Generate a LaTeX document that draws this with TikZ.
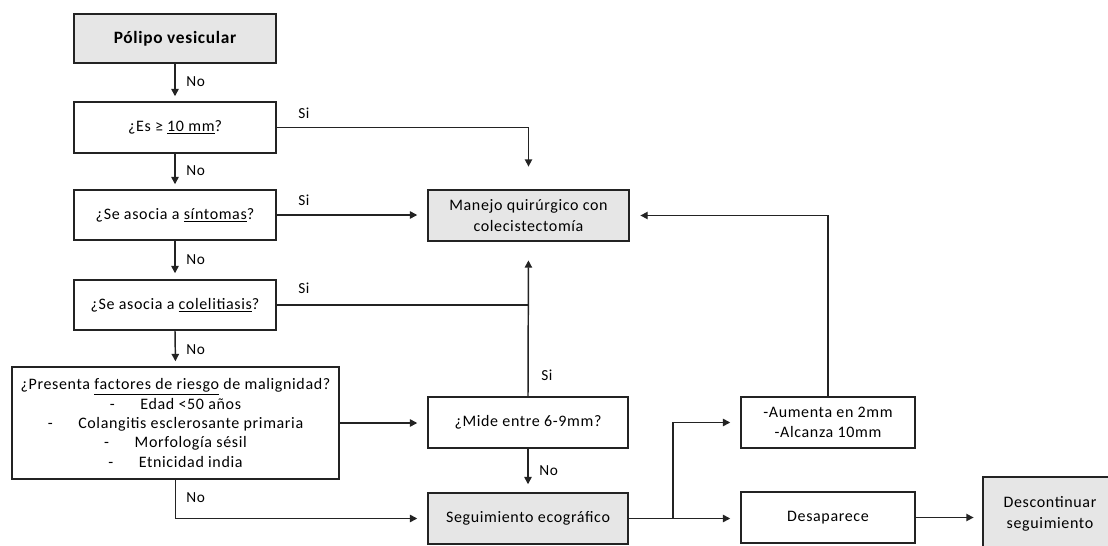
\documentclass[tikz,border=0pt]{standalone}
\usepackage{fontspec}
\setmainfont{Carlito}[LetterSpace=4]
\usetikzlibrary{arrows.meta}
\newdimen\pxu \pxu=0.75pt
\definecolor{boxgray}{RGB}{230,230,230}
\definecolor{linegray}{RGB}{35,35,35}
\begin{document}
\begin{tikzpicture}[x=0.75pt,y=-0.75pt,
  box/.style={draw=linegray,line width=1.1pt,inner sep=0pt,align=center,
    font=\fontsize{12}{15.5}\selectfont},
  gbox/.style={box,fill=boxgray},
  arr/.style={draw=linegray,line width=1.1pt,-{Triangle[length=5.5pt,width=5.5pt]}},
  ln/.style={draw=linegray,line width=1.1pt},
  lbl/.style={anchor=west,inner sep=0pt,font=\fontsize{11.5}{13}\selectfont}]
\useasboundingbox (0,0) rectangle (1108,546);

% nodes
\node[gbox,minimum width=202\pxu,minimum height=49\pxu,font=\bfseries\fontsize{13}{15}\selectfont] (polipo) at (175,38.5) {Pólipo vesicular};
\node[box,minimum width=202\pxu,minimum height=51\pxu] (es) at (175,127.5) {¿Es ≥ \underline{10 mm}?};
\node[box,minimum width=202\pxu,minimum height=50\pxu] (sint) at (175,215) {¿Se asocia a \underline{síntomas}?};
\node[box,minimum width=202\pxu,minimum height=50\pxu] (cole) at (175,305) {¿Se asocia a \underline{colelitiasis}?};
\node[box,minimum width=327\pxu,minimum height=112\pxu,font=\fontsize{12}{14.6}\selectfont] (risk) at (175.5,423) {¿Presenta \underline{factores de riesgo} de malignidad?\\
-\hspace{1.6em}Edad <50 años\\
-\hspace{1.6em}Colangitis esclerosante primaria\\
-\hspace{1.6em}Morfología sésil\\
-\hspace{1.6em}Etnicidad india};
\node[gbox,minimum width=201\pxu,minimum height=51\pxu] (manejo) at (528.5,215.5) {Manejo quirúrgico con\\colecistectomía};
\node[box,minimum width=200\pxu,minimum height=51\pxu] (mide) at (528,422.5) {¿Mide entre 6-9mm?};
\node[gbox,minimum width=200\pxu,minimum height=51\pxu] (segui) at (528,518.5) {Seguimiento ecográfico};
\node[box,minimum width=174\pxu,minimum height=51\pxu] (aumenta) at (828,422.5) {-Aumenta en 2mm\\-Alcanza 10mm};
\node[box,minimum width=174\pxu,minimum height=51\pxu] (desap) at (828,517.5) {Desaparece};
\node[gbox,minimum width=134\pxu,minimum height=74\pxu] (desc) at (1050,514) {Descontinuar\\seguimiento};

% connectors
\draw[arr,shorten >=3.75pt] (polipo.south) -- (es.north);
\node[lbl] (n1) at (186,82) {No};
\draw[arr,shorten >=17pt] (es.east) -| (manejo.north);
\node[lbl] (s1) at (298,113) {Si};
\draw[arr,shorten >=3.75pt] (es.south) -- (sint.north);
\node[lbl] (n2) at (186,171) {No};
\draw[arr,shorten >=7.5pt] (sint.east) -- (sint.east -| manejo.west);
\node[lbl] (s2) at (298,200) {Si};
\draw[arr,shorten >=4.5pt] (sint.south) -- (cole.north);
\node[lbl] (n3) at (186,260) {No};
\coordinate (j1) at (cole.east -| mide.north);
\draw[ln] (cole.east) -- (j1);
\node[lbl] (s3) at (298,288) {Si};
\draw[arr,shorten >=3.75pt] (cole.south) -- (risk.north);
\node[lbl] (n4) at (186,350) {No};
\draw[arr,shorten >=7.5pt] (risk.east) -- (risk.east -| mide.west);
\draw[arr,shorten >=7.5pt] (risk.south) |- (segui.west);
\node[lbl] (n5) at (186,498) {No};
\draw[arr,shorten >=14pt] (mide.north) -- (manejo.south);
\node[lbl] (s4) at (541,375) {Si};
\draw[arr,shorten >=6pt] (mide.south) -- (segui.north);
\node[lbl] (n6) at (539,471) {No};
\coordinate (split) at (673,518.5);
\draw[ln] (segui.east) -- (split);
\draw[arr,shorten >=7.5pt] (split) |- (aumenta.west);
\draw[arr,shorten >=7.5pt] (split) -- (split -| desap.west);
\draw[arr,shorten >=8pt] (aumenta.north) |- (manejo.east);
\draw[arr,shorten >=6.5pt] (desap.east) -- (desap.east -| desc.west);
\end{tikzpicture}
\end{document}
